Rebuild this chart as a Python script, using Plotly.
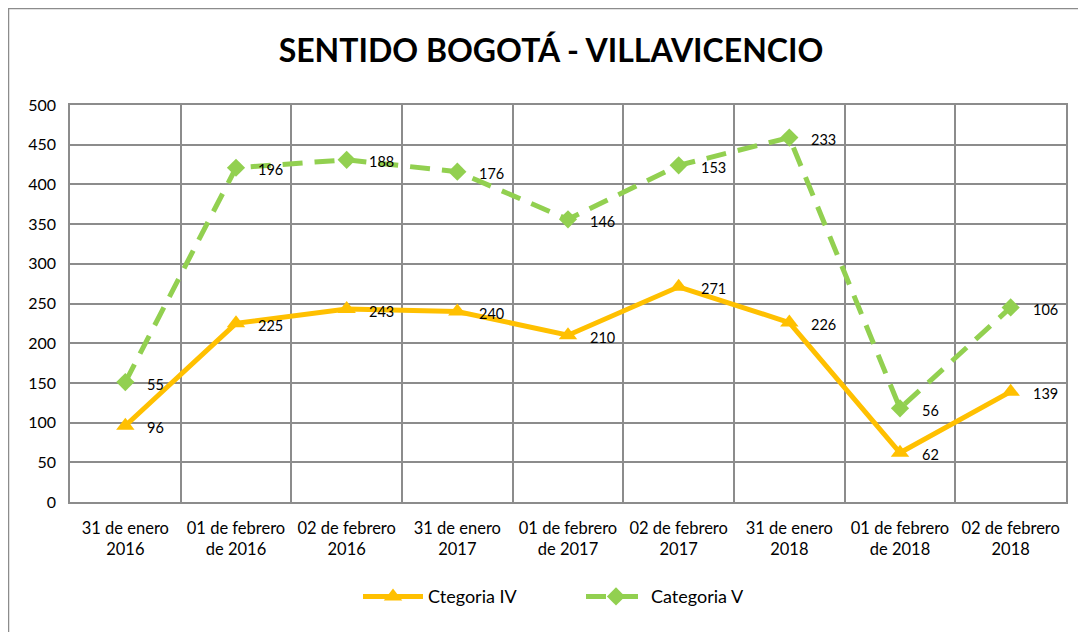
import plotly.graph_objects as go
import numpy as np

categories = ["31 de enero<br>2016", "01 de febrero<br>de 2016", "02 de febrero<br>2016",
              "31 de enero<br>2017", "01 de febrero<br>de 2017", "02 de febrero<br>2017",
              "31 de enero<br>2018", "01 de febrero<br>de 2018", "02 de febrero<br>2018"]
cat_iv = [96, 225, 243, 240, 210, 271, 226, 62, 139]
cat_v = [55, 196, 188, 176, 146, 153, 233, 56, 106]
y_ticks = [0, 50, 100, 150, 200, 250, 300, 350, 400, 450, 500]

ORANGE = "#FFC000"
GREEN = "#92D050"
FONT = "Lato"

fig = go.Figure()
fig.add_trace(go.Scatter(
    x=categories, y=cat_iv, name="Ctegoria IV", stackgroup="s", fill="none",
    mode="lines+markers",
    line=dict(color=ORANGE, width=5),
    marker=dict(symbol="triangle-up", size=16, color=ORANGE),
))
fig.add_trace(go.Scatter(
    x=categories, y=cat_v, name="Categoria V", stackgroup="s", fill="none",
    mode="lines+markers",
    line=dict(color=GREEN, width=5, dash="20px,12px"),
    marker=dict(symbol="diamond", size=14, color=GREEN),
))

stack_iv = np.array(cat_iv)
stack_v = stack_iv + np.array(cat_v)
for xs, ys, vals in [(categories, stack_iv, cat_iv), (categories, stack_v, cat_v)]:
    for cx, cy, val in zip(xs, ys, vals):
        fig.add_annotation(x=cx, y=cy, text=str(val), showarrow=False,
                           xanchor="left", xshift=20, yshift=-2,
                           font=dict(family=FONT, size=14.5, color="#000"))

# page body adds an 8px offset; margins compensate so the plot area lands at 70..1066 x 105..502
fig.update_layout(
    width=1086, height=632,
    margin=dict(l=62, r=28, t=97, b=138),
    paper_bgcolor="white", plot_bgcolor="white",
    font=dict(family=FONT, size=16, color="#000"),
    title=dict(text="<b>SENTIDO BOGOTÁ - VILLAVICENCIO</b>", x=(551 - 8) / 1086, xanchor="center",
               y=1 - 43 / 632, yanchor="middle",
               font=dict(family=FONT, size=32, color="#000")),
    showlegend=True,
    legend=dict(orientation="h", x=(358 - 8 - 62) / 996, xanchor="left", y=-0.192, yanchor="top",
                font=dict(family=FONT, size=18), itemwidth=60, entrywidth=148),
    xaxis=dict(type="category", tickson="boundaries", range=[-0.5, 8.5],
               showgrid=True, gridcolor="#8c8c8c", gridwidth=1.5,
               showline=True, linecolor="#8c8c8c", linewidth=1.5, mirror=True,
               ticks="", ticklabelstandoff=10, tickfont=dict(size=16.5)),
    yaxis=dict(range=[0, 500], tickvals=y_ticks, showgrid=True, gridcolor="#8c8c8c", gridwidth=1.5,
               showline=True, linecolor="#8c8c8c", linewidth=1.5, mirror=True,
               ticks="", ticklabelstandoff=9, tickfont=dict(size=16), zeroline=False),
)

fig.add_shape(type="rect", xref="paper", yref="paper",
              x0=(0.5 - 62) / 996, x1=1.1, y0=-0.5, y1=(494 - 0.5) / 397,
              line=dict(color="#8c8c8c", width=1.5), fillcolor="rgba(0,0,0,0)", layer="below")

fig.write_html("out.html")
